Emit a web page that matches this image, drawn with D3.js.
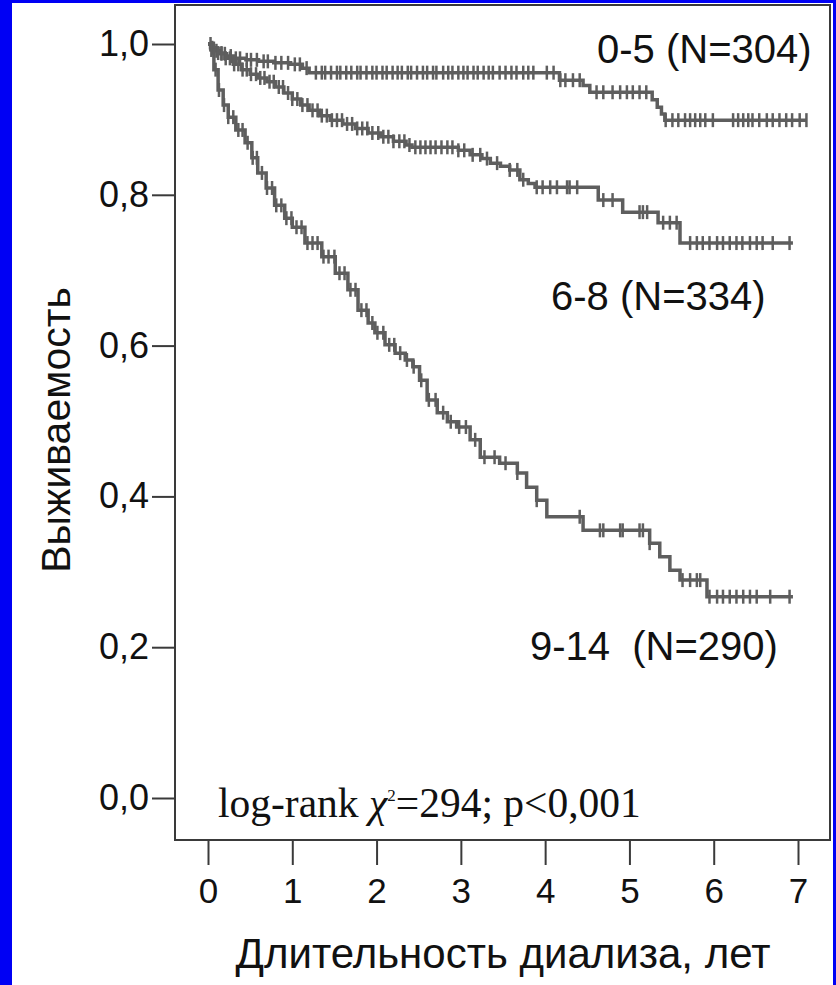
<!DOCTYPE html>
<html>
<head>
<meta charset="utf-8">
<script src="https://cdn.jsdelivr.net/npm/d3@7"></script>
<style>
  body { margin: 0; background: #fff; }
  text { font-family: Arial, "Liberation Sans", sans-serif; fill: #111; }
</style>
</head>
<body>
<svg id="chart" width="836" height="985"></svg>
<script>
const yearTicks = [0, 1, 2, 3, 4, 5, 6, 7];
const survTicks = [0, 0.2, 0.4, 0.6, 0.8, 1.0];

// group 0-5
const t05 = [0, 0.03, 0.08, 0.14, 0.22, 0.32, 0.45, 0.6, 0.78, 0.98, 1.12, 1.2, 4.17, 4.45, 4.53, 5.27, 5.33, 5.38, 5.42];
const s05 = [1.0, 0.995, 0.991, 0.987, 0.984, 0.981, 0.979, 0.977, 0.975, 0.973, 0.968, 0.962, 0.952, 0.945, 0.936, 0.926, 0.916, 0.907, 0.899];
const end05 = 7.1;
const c05 = [0.05, 0.1, 0.16, 0.2, 0.27, 0.33, 0.38, 0.46, 0.51, 0.58, 0.66, 0.71, 0.8, 0.87, 0.95, 1.03, 1.09, 1.17,
  1.28, 1.35, 1.39, 1.46, 1.53, 1.57, 1.64, 1.7, 1.77, 1.81, 1.88, 1.95, 2.0, 2.07, 2.12, 2.19, 2.25, 2.3, 2.37, 2.41,
  2.48, 2.55, 2.6, 2.67, 2.71, 2.79, 2.85, 2.9, 2.97, 3.03, 3.08, 3.15, 3.2, 3.27, 3.33, 3.38, 3.46, 3.53, 3.6, 3.66,
  3.74, 3.8, 3.86, 4.02, 4.1, 4.18, 4.24, 4.33, 4.41, 4.61, 4.69, 4.8, 4.89, 4.97, 5.04, 5.12, 5.2,
  5.43, 5.51, 5.58, 5.66, 5.72, 5.78, 5.84, 5.9, 5.99, 6.23, 6.29, 6.35, 6.41, 6.46, 6.54, 6.63, 6.7, 6.78, 6.86, 6.93, 7.02, 7.1];

// group 6-8
const t68 = [0, 0.05, 0.12, 0.2, 0.3, 0.4, 0.5, 0.6, 0.7, 0.8, 0.9, 1.0, 1.1, 1.2, 1.32, 1.45, 1.6, 1.75, 1.9, 2.05, 2.2, 2.35, 2.42,
  2.97, 3.11, 3.25, 3.35, 3.47, 3.58, 3.7, 3.8, 3.88, 4.63, 4.92, 5.34, 5.6];
const s68 = [1.0, 0.994, 0.988, 0.981, 0.973, 0.966, 0.96, 0.955, 0.95, 0.943, 0.935, 0.927, 0.919, 0.912, 0.905, 0.899, 0.894, 0.888, 0.882, 0.877, 0.871, 0.866, 0.863,
  0.859, 0.853, 0.848, 0.842, 0.838, 0.833, 0.82, 0.815, 0.81, 0.793, 0.777, 0.763, 0.736];
const end68 = 6.94;
const c68 = [0.03, 0.07, 0.12, 0.16, 0.21, 0.26, 0.31, 0.36, 0.41, 0.46, 0.51, 0.57, 0.62, 0.67, 0.73, 0.78, 0.84, 0.89, 0.95, 1.0,
  1.06, 1.12, 1.18, 1.24, 1.3, 1.35, 1.41, 1.47, 1.53, 1.59, 1.65, 1.71, 1.77, 1.83, 1.89, 1.95, 2.02, 2.08, 2.14, 2.2, 2.27,
  2.33, 2.39, 2.46, 2.52, 2.58, 2.64, 2.7, 2.77, 2.84, 2.9, 2.97, 3.04, 3.14, 3.23, 3.31, 3.43, 3.58, 3.67, 3.74, 3.9, 3.97,
  4.06, 4.14, 4.26, 4.29, 4.38, 4.69, 4.8, 5.12, 5.16, 5.21, 5.4, 5.48, 5.56, 5.72, 5.8, 5.87, 5.95, 6.04, 6.11, 6.19, 6.27,
  6.34, 6.43, 6.51, 6.58, 6.7, 6.9];

// group 9-14
const t914 = [0, 0.036, 0.07, 0.12, 0.18, 0.24, 0.33, 0.44, 0.52, 0.59, 0.69, 0.79, 0.91, 1.0, 1.15, 1.35, 1.51, 1.66, 1.78, 1.9, 1.98,
  2.1, 2.22, 2.34, 2.43, 2.51, 2.6, 2.72, 2.84, 2.95, 3.11, 3.23, 3.46, 3.67, 3.78, 3.9, 4.02, 4.45, 5.24, 5.36, 5.48, 5.6, 5.92];
const s914 = [1.0, 0.992, 0.966, 0.939, 0.919, 0.903, 0.886, 0.869, 0.849, 0.829, 0.809, 0.786, 0.769, 0.757, 0.736, 0.718, 0.696, 0.674, 0.647, 0.63, 0.617,
  0.601, 0.59, 0.581, 0.572, 0.554, 0.528, 0.511, 0.499, 0.492, 0.475, 0.452, 0.444, 0.431, 0.412, 0.395, 0.373, 0.355, 0.338, 0.32, 0.302, 0.289, 0.267];
const end914 = 6.94;
const c914 = [0.04, 0.09, 0.13, 0.19, 0.24, 0.3, 0.36, 0.41, 0.47, 0.53, 0.58, 0.64, 0.7, 0.76, 0.81, 0.87, 0.93, 0.99, 1.05, 1.11,
  1.18, 1.24, 1.3, 1.37, 1.43, 1.5, 1.56, 1.62, 1.69, 1.75, 1.82, 1.88, 1.95, 2.01, 2.08, 2.15, 2.21, 2.28, 2.36, 2.44, 2.53,
  2.62, 2.7, 2.79, 2.88, 2.98, 3.06, 3.17, 3.28, 3.4, 3.53, 3.67, 3.9, 4.41, 4.65, 4.69, 4.89, 4.92, 5.12, 5.16, 5.24, 5.63,
  5.72, 5.8, 5.84, 5.95, 6.04, 6.11, 6.19, 6.27, 6.35, 6.43, 6.51, 6.67, 6.9];

const groups = [
  { label: "0-5 (N=304)", times: t05, surv: s05, end: end05, censor: c05, lx: 597, ly: 63 },
  { label: "6-8 (N=334)", times: t68, surv: s68, end: end68, censor: c68, lx: 551, ly: 310 },
  { label: "9-14\u00a0\u00a0(N=290)", times: t914, surv: s914, end: end914, censor: c914, lx: 530, ly: 660 }
];

const svg = d3.select("#chart");
const lineColor = "#5e5e5e";

const x = d3.scaleLinear().domain([0, 7]).range([208, 798]);
const y = d3.scaleLinear().domain([0, 1]).range([798, 44]);

// blue frame of the slide
svg.append("rect").attr("x", 0).attr("y", 0).attr("width", 836).attr("height", 985).attr("fill", "#fff");
svg.append("rect").attr("x", 0).attr("y", 0).attr("width", 12).attr("height", 985).attr("fill", "#0000f4");
svg.append("rect").attr("x", 0).attr("y", 0).attr("width", 836).attr("height", 3).attr("fill", "#0000f4");
svg.append("rect").attr("x", 833).attr("y", 0).attr("width", 3).attr("height", 985).attr("fill", "#0000f4");

// plot box
svg.append("rect")
  .attr("x", 175).attr("y", 5).attr("width", 655).attr("height", 835)
  .attr("fill", "none").attr("stroke", "#3a3a3a").attr("stroke-width", 2);

const yAxis = d3.axisLeft(y)
  .tickValues(survTicks)
  .tickSize(23)
  .tickPadding(3)
  .tickFormat(d => d3.format(".1f")(d).replace(".", ","));

svg.append("g").attr("transform", "translate(175,0)").call(yAxis)
  .call(g => g.select(".domain").remove())
  .call(g => g.selectAll("line").attr("stroke", "#3a3a3a").attr("stroke-width", 2))
  .call(g => g.selectAll("text").attr("font-size", 36).attr("font-family", "Arial").attr("fill", "#111"));

const xAxis = d3.axisBottom(x)
  .tickValues(yearTicks)
  .tickSize(25)
  .tickPadding(13)
  .tickFormat(d3.format("d"));

svg.append("g").attr("transform", "translate(0,840)").call(xAxis)
  .call(g => g.select(".domain").remove())
  .call(g => g.selectAll("line").attr("stroke", "#3a3a3a").attr("stroke-width", 2))
  .call(g => g.selectAll("text").attr("font-size", 35).attr("font-family", "Arial").attr("fill", "#111"));

// survival curves
const line = d3.line()
  .x(d => x(d[0]))
  .y(d => y(d[1]))
  .curve(d3.curveStepAfter);

const survAt = (g, t) => g.surv[d3.bisectRight(g.times, t) - 1];

groups.forEach(g => {
  const pts = g.times.map((t, i) => [t, g.surv[i]]);
  pts.push([g.end, g.surv[g.surv.length - 1]]);

  svg.append("path")
    .datum(pts)
    .attr("d", line)
    .attr("fill", "none")
    .attr("stroke", lineColor)
    .attr("stroke-width", 3.5);

  svg.append("g").selectAll("line")
    .data(g.censor)
    .join("line")
    .attr("x1", d => x(d)).attr("x2", d => x(d))
    .attr("y1", d => y(survAt(g, d)) - 7)
    .attr("y2", d => y(survAt(g, d)) + 7)
    .attr("stroke", lineColor)
    .attr("stroke-width", 2.5);

  svg.append("text")
    .attr("x", g.lx).attr("y", g.ly)
    .attr("font-size", 40)
    .text(g.label);
});

// axis titles
svg.append("text")
  .attr("x", 503).attr("y", 968)
  .attr("text-anchor", "middle")
  .attr("font-size", 42)
  .text("Длительность диализа, лет");

svg.append("text")
  .attr("transform", "translate(70,430) rotate(-90)")
  .attr("text-anchor", "middle")
  .attr("font-size", 41)
  .text("Выживаемость");

// test statistic
const note = svg.append("text")
  .attr("x", 218).attr("y", 817)
  .attr("font-size", 41.5)
  .style("font-family", "'Liberation Serif', 'Times New Roman', serif");
note.append("tspan").text("log-rank ");
note.append("tspan").attr("font-style", "italic").text("χ");
note.append("tspan").attr("font-size", 17).attr("dy", -16).text("2");
note.append("tspan").attr("dy", 16).text("=294; p<0,001");
</script>
</body>
</html>
